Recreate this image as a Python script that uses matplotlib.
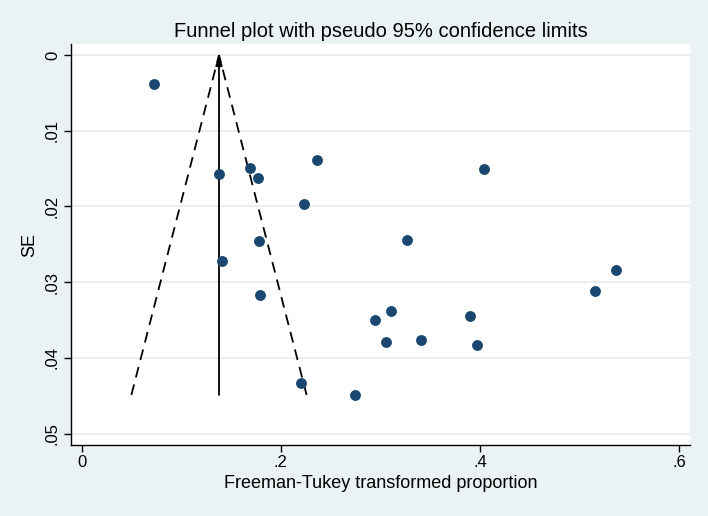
import matplotlib.pyplot as plt

plt.rcParams["font.family"] = ["Liberation Sans", "DejaVu Sans"]

# study estimates: Freeman-Tukey transformed proportion and its SE
ft_prop = [0.0732, 0.1385, 0.1690, 0.1771, 0.2360, 0.2229, 0.1781, 0.1415,
           0.1787, 0.2203, 0.2749, 0.4042, 0.3271, 0.5369, 0.5151, 0.2950,
           0.3107, 0.3054, 0.3405, 0.3905, 0.3968]
se = [0.00379, 0.01577, 0.01493, 0.01630, 0.01392, 0.01965, 0.02454, 0.02718,
      0.03168, 0.04326, 0.04489, 0.01502, 0.02445, 0.02841, 0.03115, 0.03502,
      0.03387, 0.03784, 0.03762, 0.03453, 0.03823]
pooled = 0.138

xticks = [0, 0.2, 0.4, 0.6]
xtick_labels = ["0", ".2", ".4", ".6"]
yticks = [0, 0.01, 0.02, 0.03, 0.04, 0.05]
ytick_labels = ["0", ".01", ".02", ".03", ".04", ".05"]

BG = "#EAF2F3"
GRID = "#E3ECEF"
NAVY = "#1A476F"

fig = plt.figure(figsize=(7.08, 5.16), dpi=100, facecolor=BG)
ax = fig.add_axes([0.1003, 0.1376, 0.8743, 0.7771])
ax.set_facecolor("white")

max_se = max(se)
ax.plot([pooled - 1.96 * max_se, pooled], [max_se, 0], color="black",
        linestyle=(0, (6, 4)), linewidth=1.3)
ax.plot([pooled + 1.96 * max_se, pooled], [max_se, 0], color="black",
        linestyle=(0, (6, 4)), linewidth=1.3)
ax.annotate("", xy=(pooled, 0), xytext=(pooled, max_se),
            arrowprops=dict(arrowstyle="-|>,head_length=0.6,head_width=0.2",
                            color="black", lw=1.3, shrinkA=0, shrinkB=0))

ax.plot(ft_prop, se, "o", color=NAVY, markersize=6.8, zorder=3)

ax.set_xlim(-0.0106, 0.611)
ax.set_ylim(0.0515, -0.00145)
ax.set_xticks(xticks, xtick_labels)
ax.set_yticks(yticks, ytick_labels)
for lab in ax.get_yticklabels():
    lab.set_rotation(90)
    lab.set_va("center")
ax.tick_params(axis="both", direction="out", length=5, width=1,
               labelsize=12, colors="black")
ax.tick_params(axis="x", pad=2)
ax.tick_params(axis="y", pad=3)
ax.grid(axis="y", color=GRID, linewidth=1.2)
ax.set_axisbelow(True)

for side in ("top", "right"):
    ax.spines[side].set_visible(False)
for side in ("left", "bottom"):
    ax.spines[side].set_color("black")
    ax.spines[side].set_linewidth(1)

ax.set_xlabel("Freeman-Tukey transformed proportion", fontsize=13, labelpad=4)
ax.set_ylabel("SE", fontsize=13, labelpad=5)
ax.set_title("Funnel plot with pseudo 95% confidence limits", fontsize=14.5, pad=5)

fig.savefig("out.png", dpi=100, facecolor=BG)
